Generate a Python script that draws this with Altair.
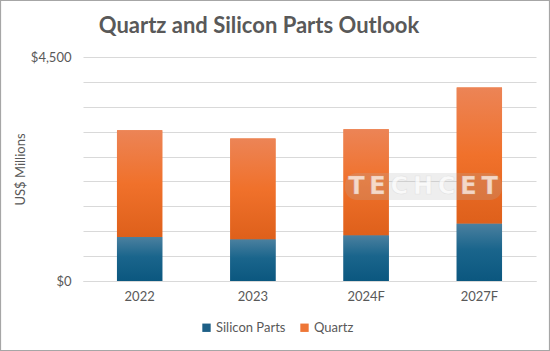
import altair as alt
import pandas as pd

years = ["2022", "2023", "2024F", "2027F"]
silicon = [884, 838, 918, 1153]
quartz = [2143, 2023, 2129, 2732]
series = ["Silicon Parts", "Quartz"]
legend_colors = ["#1d5f86", "#ee7636"]

FONT = "Lato"
GREY = "#595959"

wide = pd.DataFrame({
    "year": years,
    "silicon": silicon,
    "quartz": quartz,
})
wide["total"] = wide["silicon"] + wide["quartz"]

long = pd.DataFrame({
    "year": years * 2,
    "series": [series[0]] * 4 + [series[1]] * 4,
    "value": silicon + quartz,
    "order": [0] * 4 + [1] * 4,
})

xaxis = alt.Axis(labelAngle=0, labelFont=FONT, labelFontSize=13,
                 labelColor=GREY, labelPadding=9, ticks=False,
                 domainColor="#d9d9d9", domainWidth=1, grid=False)
xscale = alt.Scale(paddingInner=0.6, paddingOuter=0.3)
yscale = alt.Scale(domain=[0, 4500], nice=False)
yaxis = alt.Axis(values=list(range(0, 4501, 500)),
                 labelExpr="datum.value == 0 || datum.value == 4500 ? format(datum.value, '$,.0f') : ''",
                 labelFont=FONT, labelFontSize=13, labelColor=GREY,
                 labelPadding=12, ticks=False, domain=False,
                 gridColor="#d9d9d9", gridWidth=1,
                 titleFont=FONT, titleFontSize=13, titleFontWeight="normal",
                 titleColor=GREY, titlePadding=3)
YT = "US$ Millions"

base = alt.Chart(long).mark_bar().encode(
    x=alt.X("year:N", sort=years, title=None, scale=xscale, axis=xaxis),
    y=alt.Y("sum(value):Q", scale=yscale, title=YT, axis=yaxis),
    color=alt.Color("series:N", sort=series,
                    scale=alt.Scale(domain=series, range=legend_colors),
                    legend=alt.Legend(title=None, orient="none", direction="horizontal",
                                      legendX=117, legendY=264, symbolType="square",
                                      symbolSize=70, symbolStrokeWidth=0,
                                      labelFont=FONT, labelFontSize=13, labelColor=GREY,
                                      columnPadding=12, labelOffset=3)),
    order=alt.Order("order:Q"),
)

sil_grad = alt.Gradient(gradient="linear", x1=0, y1=0, x2=0, y2=1, stops=[
    alt.GradientStop(color="#4b809f", offset=0),
    alt.GradientStop(color="#1a658c", offset=0.45),
    alt.GradientStop(color="#0b577f", offset=1),
])
qtz_grad = alt.Gradient(gradient="linear", x1=0, y1=0, x2=0, y2=1, stops=[
    alt.GradientStop(color="#ec8456", offset=0),
    alt.GradientStop(color="#f0712b", offset=0.5),
    alt.GradientStop(color="#de601b", offset=1),
])

sil = alt.Chart(wide).mark_bar(fill=sil_grad).encode(
    x=alt.X("year:N", sort=years, title=None, scale=xscale, axis=xaxis),
    y=alt.Y("silicon:Q", scale=yscale, title=YT, axis=yaxis),
    y2=alt.value(224),
)
qtz = alt.Chart(wide).mark_bar(fill=qtz_grad).encode(
    x=alt.X("year:N", sort=years, title=None, scale=xscale, axis=xaxis),
    y=alt.Y("total:Q", scale=yscale, title=YT, axis=yaxis),
    y2=alt.Y2("silicon:Q"),
)

wm_df = pd.DataFrame({"label": ["T\u2009E\u2009C\u2009H\u2009C\u2009E\u2009T"]})
wm_band = alt.Chart(wm_df).mark_rect(fill="#b0b0b0", opacity=0.22, cornerRadius=12).encode(
    x=alt.value(262), x2=alt.value(419), y=alt.value(116), y2=alt.value(143)
)
wm_text = alt.Chart(wm_df).mark_text(font="DejaVu Sans", fontSize=24, fontWeight="bold",
                                     color="white", opacity=0.7, stroke="#c8c8c8",
                                     strokeWidth=0.6, strokeOpacity=0.5,
                                     align="center", baseline="middle").encode(
    x=alt.value(340), y=alt.value(130), text="label:N"
)

title_df = pd.DataFrame({"t": ["Quartz and Silicon Parts Outlook"]})
title = alt.Chart(title_df).mark_text(font=FONT, fontSize=22, fontWeight="bold",
                                      color=GREY, align="center", baseline="alphabetic").encode(
    x=alt.value(176), y=alt.value(-24), text="t:N"
)

border = alt.Chart(title_df).mark_rect(fill=None, stroke="#a6a6a6", strokeWidth=1.2).encode(
    x=alt.value(-82.5), x2=alt.value(466.5), y=alt.value(-56.5), y2=alt.value(293.5)
)

chart = alt.layer(base, sil, qtz, wm_band, wm_text, title, border).properties(
    width=453, height=224,
    padding={"left": 83, "top": 57, "right": 14, "bottom": 70},
    autosize=alt.AutoSizeParams(type="none"),
    background="white",
).configure_view(stroke=None)

chart.save("out.html", embed_options={"renderer": "svg", "actions": False})
